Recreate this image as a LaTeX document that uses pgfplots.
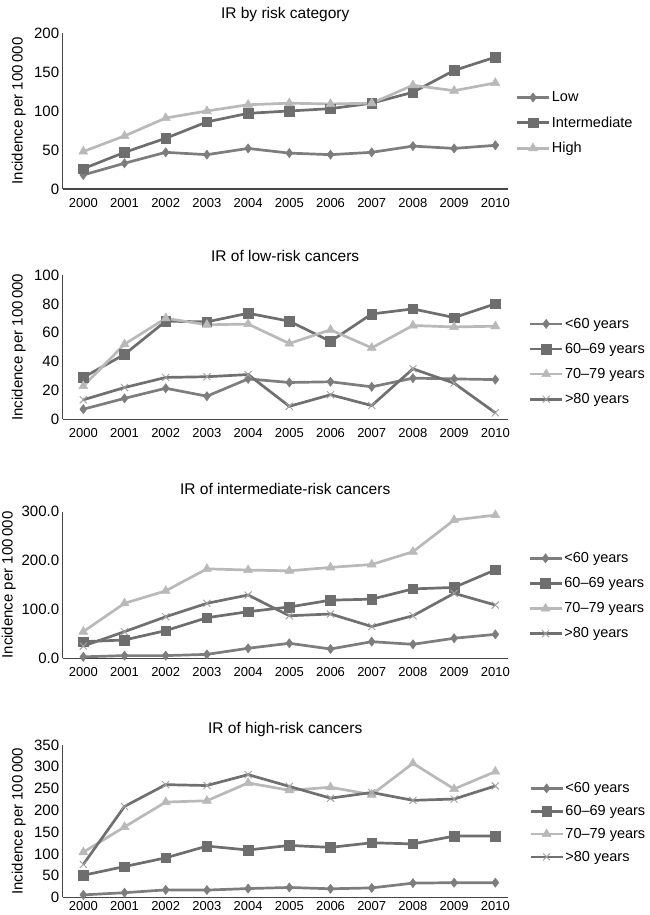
\documentclass[border=0pt]{standalone}
\usepackage{fontspec}
\setmainfont{Liberation Sans}
\usepackage{pgfplots}
\pgfplotsset{compat=1.18}

\definecolor{cLow}{RGB}{125,125,125}
\definecolor{cInt}{RGB}{110,110,110}
\definecolor{cHigh}{RGB}{185,185,185}
\definecolor{cOld}{RGB}{112,112,112}
\definecolor{cOldMark}{RGB}{160,160,160}
\definecolor{axcol}{RGB}{70,70,70}

\pgfplotsset{
  panel/.style={
    scale only axis, width=445pt,
    xmin=1999.5, xmax=2010.3, ymin=0,
    axis x line*=bottom, axis y line*=left,
    axis line style={axcol, line width=1.2pt, -},
    major tick length=0pt,
    xtick={2000,2001,...,2010},
    /pgf/number format/assume math mode=true,
    xticklabel style={font=\fontsize{13}{13}\selectfont, /pgf/number format/1000 sep={}, yshift=-5.5pt},
    yticklabel style={font=\fontsize{15}{15}\selectfont},
    ylabel={Incidence per 100\,000},
    every axis y label/.style={at={(axis description cs:-0.099,0.5)}, rotate=90, anchor=center, font=\fontsize{15}{15}\selectfont},
    title style={font=\fontsize{15.5}{15.5}\selectfont, at={(0.5,1)}, anchor=center},
    legend cell align=left,
    legend image code/.code={\draw[mark repeat=2,mark phase=2,##1] plot coordinates {(0pt,0pt) (16pt,0pt) (32pt,0pt)};},
    legend style={draw=none, fill=none, anchor=west, font=\fontsize{14.5}{14}\selectfont, inner sep=0pt, nodes={inner sep=1.5pt}, row sep=10.5pt},
  },
  sLow/.style={color=cLow, line width=2.7pt, mark=diamond*, mark size=4.6pt, mark options={solid, line width=0.5pt, fill=cLow}},
  sInt/.style={color=cInt, line width=2.7pt, mark=square*, mark size=4.8pt, mark options={solid, line width=0.5pt, fill=cInt}},
  sHigh/.style={color=cHigh, line width=2.7pt, mark=triangle*, mark size=5.2pt, mark options={solid, line width=0.5pt, fill=cHigh}},
  sOld/.style={color=cOld, line width=2.7pt, mark=x, mark size=5pt, mark options={solid, line width=0.9pt, draw=cOldMark}},
}

\begin{document}
\begin{tikzpicture}
\path[use as bounding box] (0pt,0pt) rectangle (649pt,915pt);

% Panel 1
\begin{axis}[panel, at={(62.7pt,726pt)}, anchor=south west, height=156pt,
  ymax=200, ytick={0,50,100,150,200},
  title={IR by risk category}, title style={yshift=12.3pt},
  legend style={at={(axis description cs:1.0175,0.423)}}]
\addplot[sLow] coordinates {(2000,18) (2001,33) (2002,47) (2003,44) (2004,52) (2005,46) (2006,44) (2007,47) (2008,55) (2009,52) (2010,56)};
\addlegendentry{\strut Low}
\addplot[sInt] coordinates {(2000,26) (2001,47) (2002,65) (2003,86) (2004,97) (2005,100) (2006,103) (2007,110) (2008,124) (2009,152) (2010,169)};
\addlegendentry{\strut Intermediate}
\addplot[sHigh] coordinates {(2000,48) (2001,68) (2002,91) (2003,100) (2004,108) (2005,110) (2006,109) (2007,110) (2008,133) (2009,126) (2010,136)};
\addlegendentry{\strut High}
\end{axis}

% Panel 2
\begin{axis}[panel, at={(62.7pt,495.7pt)}, anchor=south west, height=144.3pt,
  ymax=100, ytick={0,20,40,60,80,100},
  title={IR of low-risk cancers}, title style={yshift=13.3pt},
  legend style={at={(axis description cs:1.047,0.40)}}]
\addplot[sLow] coordinates {(2000,7) (2001,14.5) (2002,21.5) (2003,16) (2004,28) (2005,25.5) (2006,26) (2007,22.5) (2008,28.5) (2009,28) (2010,27.5)};
\addlegendentry{\strut <60 years}
\addplot[sInt] coordinates {(2000,29) (2001,45) (2002,68) (2003,67.5) (2004,73.5) (2005,68) (2006,54) (2007,73) (2008,76.5) (2009,70.5) (2010,80)};
\addlegendentry{\strut 60–69 years}
\addplot[sHigh] coordinates {(2000,23) (2001,52) (2002,70) (2003,65.5) (2004,66) (2005,52.5) (2006,62) (2007,49.5) (2008,65) (2009,64) (2010,64.5)};
\addlegendentry{\strut 70–79 years}
\addplot[sOld] coordinates {(2000,13.5) (2001,22) (2002,29) (2003,29.5) (2004,31) (2005,9) (2006,17) (2007,9.5) (2008,35) (2009,25) (2010,4.5)};
\addlegendentry{\strut >80 years}
\end{axis}

% Panel 3
\begin{axis}[panel, at={(62.7pt,256.7pt)}, anchor=south west, height=146.6pt,
  ymax=300, ytick={0,100,200,300},
  yticklabel style={/pgf/number format/.cd, fixed, fixed zerofill, precision=1},
  every axis y label/.append style={at={(axis description cs:-0.121,0.5)}},
  title={IR of intermediate-risk cancers}, title style={yshift=16.7pt},
  legend style={at={(axis description cs:1.0456,0.425)}}]
\addplot[sLow] coordinates {(2000,3) (2001,5.5) (2002,5.5) (2003,8) (2004,20.5) (2005,30.7) (2006,19) (2007,34) (2008,28.6) (2009,41) (2010,49)};
\addlegendentry{\strut <60 years}
\addplot[sInt] coordinates {(2000,34) (2001,37.5) (2002,56.6) (2003,83) (2004,95.4) (2005,105) (2006,119) (2007,121) (2008,142) (2009,145) (2010,181)};
\addlegendentry{\strut 60–69 years}
\addplot[sHigh] coordinates {(2000,54.5) (2001,112.5) (2002,138) (2003,183) (2004,180.6) (2005,179) (2006,186) (2007,192) (2008,218) (2009,283) (2010,293)};
\addlegendentry{\strut 70–79 years}
\addplot[sOld] coordinates {(2000,25) (2001,54.5) (2002,85) (2003,112.5) (2004,129.5) (2005,87) (2006,90.7) (2007,65) (2008,87) (2009,133) (2010,109)};
\addlegendentry{\strut >80 years}
\end{axis}

% Panel 4
\begin{axis}[panel, at={(62.7pt,17.5pt)}, anchor=south west, height=152.5pt,
  ymax=350, ytick={0,50,100,150,200,250,300,350},
  xticklabel style={yshift=4.8pt},
  title={IR of high-risk cancers}, title style={yshift=10pt},
  legend style={at={(axis description cs:1.048,0.491)}, row sep=8.2pt}]
\addplot[sLow] coordinates {(2000,6) (2001,11) (2002,17.5) (2003,17) (2004,20.5) (2005,23) (2006,20) (2007,22) (2008,33) (2009,34) (2010,34)};
\addlegendentry{\strut <60 years}
\addplot[sInt] coordinates {(2000,51) (2001,71) (2002,91) (2003,118) (2004,109) (2005,119.5) (2006,115) (2007,125.6) (2008,123) (2009,141) (2010,141)};
\addlegendentry{\strut 60–69 years}
\addplot[sHigh] coordinates {(2000,104) (2001,162) (2002,219) (2003,222) (2004,263) (2005,246) (2006,253) (2007,236) (2008,308) (2009,249) (2010,289)};
\addlegendentry{\strut 70–79 years}
\addplot[sOld] coordinates {(2000,76) (2001,209) (2002,259) (2003,257) (2004,282) (2005,255) (2006,228) (2007,241) (2008,223) (2009,226) (2010,256)};
\addlegendentry{\strut >80 years}
\end{axis}
\end{tikzpicture}
\end{document}
